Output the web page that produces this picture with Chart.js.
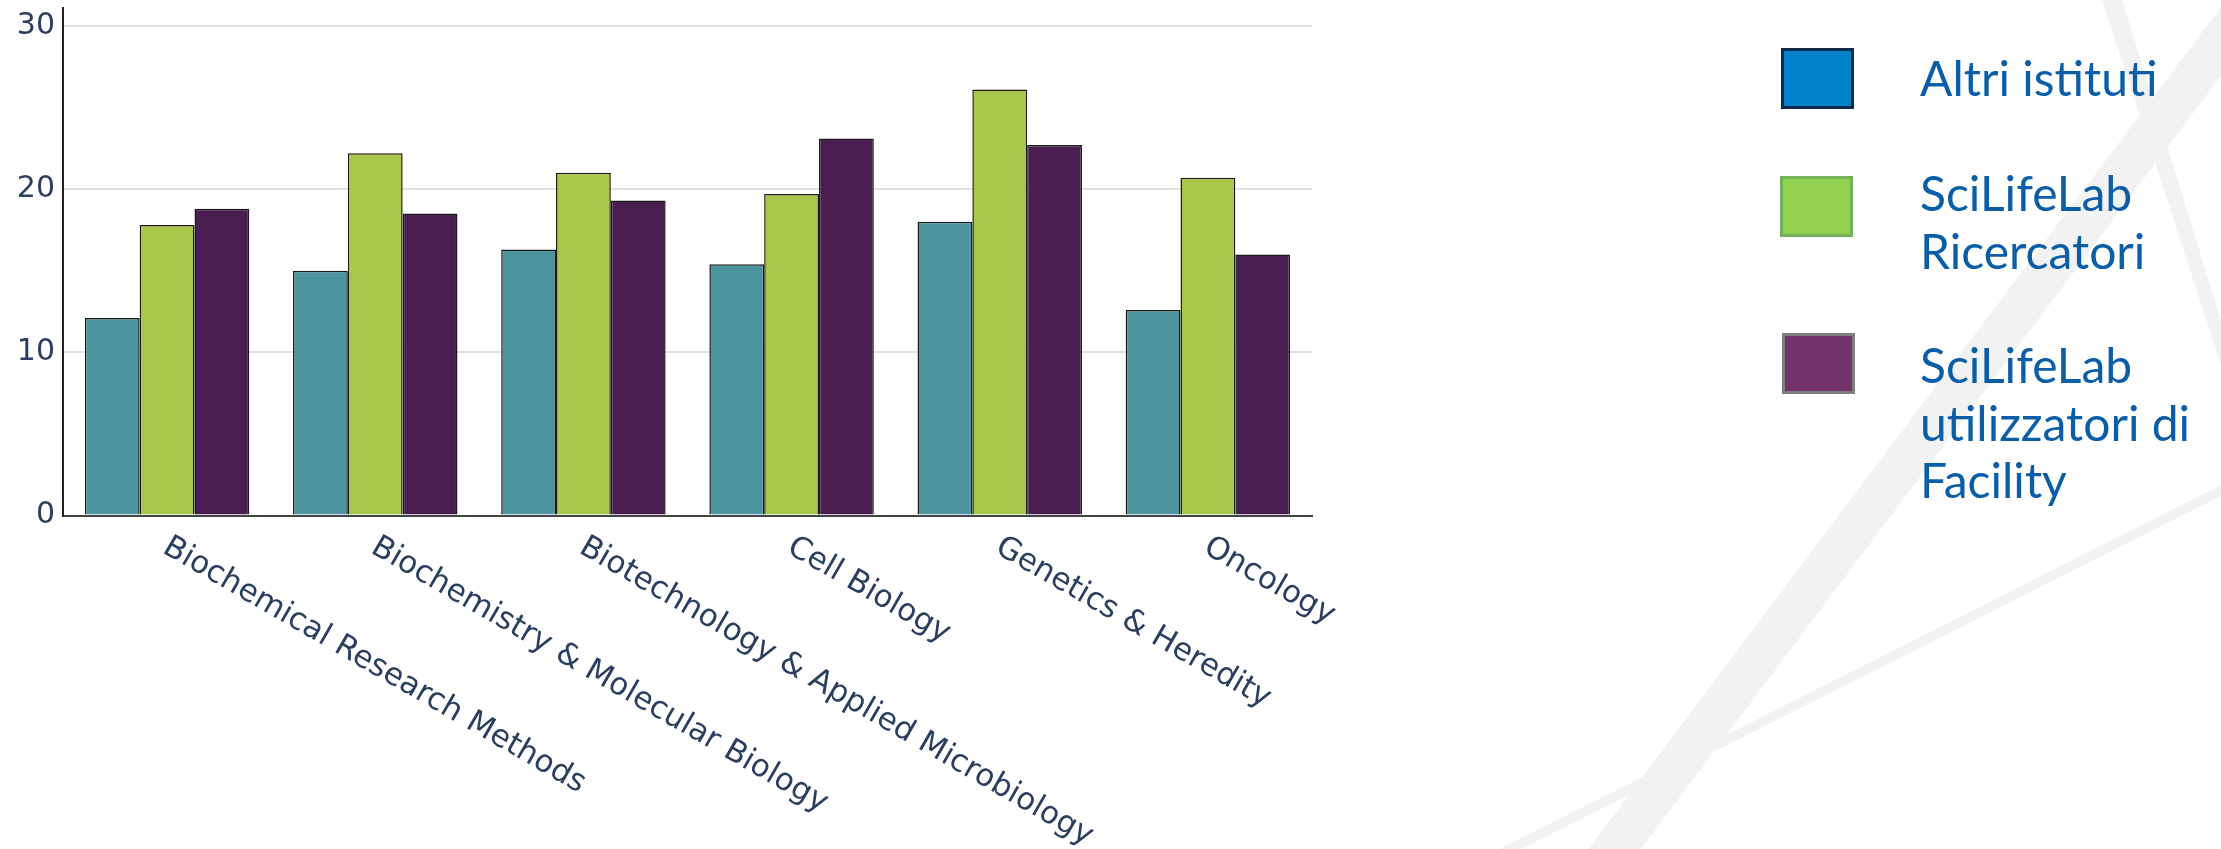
<!DOCTYPE html>
<html>
<head>
<meta charset="utf-8">
<script src="https://cdn.jsdelivr.net/npm/chart.js"></script>
<style>
  html, body { margin: 0; padding: 0; background: #fff; }
  #wrap { position: relative; width: 2221px; height: 849px; overflow: hidden; }
  #bg, #chart { position: absolute; left: 0; top: 0; }
  .key { position: absolute; box-sizing: border-box; border: 3px solid; width: 73px; height: 61px; }
  .name { position: absolute; left: 1920px; width: 300px; font-family: Lato, sans-serif; font-size: 48px; line-height: 57.5px; color: #0a5ea8; }
</style>
</head>
<body>
<div id="wrap">
  <svg id="bg" width="2221" height="849">
    <polygon points="2221,7 2221,76 1641,849 1588,849" fill="#f2f2f2"/>
    <polygon points="2221,485 2221,496 1521,849 1500,849" fill="#f2f2f2"/>
    <polygon points="2102,0 2122,0 2221,320 2221,365" fill="#f2f2f2"/>
  </svg>
  <canvas id="chart" width="2221" height="849"></canvas>
</div>
<script>
// data
const categories = [
  "Biochemical Research Methods",
  "Biochemistry & Molecular Biology",
  "Biotechnology & Applied Microbiology",
  "Cell Biology",
  "Genetics & Heredity",
  "Oncology"
];
const seriesNames = ["Altri istituti", "SciLifeLab Ricercatori", "SciLifeLab utilizzatori di Facility"];
const altriIstituti = [12.1, 15.0, 16.3, 15.4, 18.0, 12.6];
const ricercatori = [17.8, 22.2, 21.0, 19.7, 26.1, 20.7];
const utilizzatoriFacility = [18.8, 18.5, 19.3, 23.1, 22.7, 16.0];
const yTicks = [0, 10, 20, 30];

const barColors = ["#4c949e", "#a8c74a", "#4a1e50"];
// the slide legend uses its own colours
const keyFill = ["#0083c8", "#92d050", "#74336a"];
const keyBorder = ["#0c2a4c", "#72b05a", "#7f7f7f"];
const keyTop = [48, 176, 333];
const nameTop = [49, 164, 336];

const wrap = document.getElementById("wrap");
seriesNames.forEach(function(name, i) {
  const k = document.createElement("div");
  k.className = "key";
  k.style.left = (1781 + (i == 1 ? -1 : i == 2 ? 1 : 0)) + "px";
  k.style.top = keyTop[i] + "px";
  k.style.background = keyFill[i];
  k.style.borderColor = keyBorder[i];
  wrap.appendChild(k);
  const t = document.createElement("div");
  t.className = "name";
  t.style.top = nameTop[i] + "px";
  t.textContent = name;
  wrap.appendChild(t);
});

const tickColor = "#2a3f5f";

// x labels run down to the right, which the built-in rotation can't do
const slantedLabels = {
  id: "slantedLabels",
  afterDraw(chart) {
    const x = chart.scales.x, ctx = chart.ctx;
    ctx.save();
    ctx.font = '31px "DejaVu Sans"';
    ctx.fillStyle = tickColor;
    ctx.textAlign = "left";
    ctx.textBaseline = "top";
    categories.forEach(function(c, i) {
      ctx.save();
      ctx.translate(x.getPixelForTick(i) + 6, x.top + 16);
      ctx.rotate(30 * Math.PI / 180);
      ctx.fillText(c, 0, 0);
      ctx.restore();
    });
    ctx.restore();
  }
};

const series = [altriIstituti, ricercatori, utilizzatoriFacility];

new Chart(document.getElementById("chart"), {
  type: "bar",
  data: {
    labels: categories,
    datasets: series.map(function(d, i) {
      return {
        label: seriesNames[i],
        data: d,
        backgroundColor: barColors[i],
        borderColor: "#1a1a1a",
        borderWidth: 1.5,
        categoryPercentage: 0.79,
        barPercentage: 1.0
      };
    })
  },
  options: {
    responsive: false,
    animation: false,
    layout: { padding: { top: 8, right: 909, bottom: 0, left: 0 } },
    plugins: {
      legend: { display: false },
      tooltip: { enabled: false }
    },
    scales: {
      x: {
        grid: { display: false },
        border: { color: "#444", width: 2 },
        ticks: { display: false },
        afterFit: function(s) { s.height = 333.5; s.paddingLeft = 0; s.paddingRight = 0; }
      },
      y: {
        min: 0,
        max: 31.1,
        afterBuildTicks: function(s) { s.ticks = yTicks.map(function(v) { return { value: v }; }); },
        ticks: {
          color: tickColor,
          font: { family: "DejaVu Sans", size: 30 },
          padding: 8
        },
        grid: { color: "#e1e1e1", lineWidth: 2, drawTicks: false },
        border: { color: "#222", width: 2 },
        afterFit: function(s) { s.width = 63; s.paddingTop = 0; s.paddingBottom = 0; }
      }
    }
  },
  plugins: [slantedLabels]
});
</script>
</body>
</html>
